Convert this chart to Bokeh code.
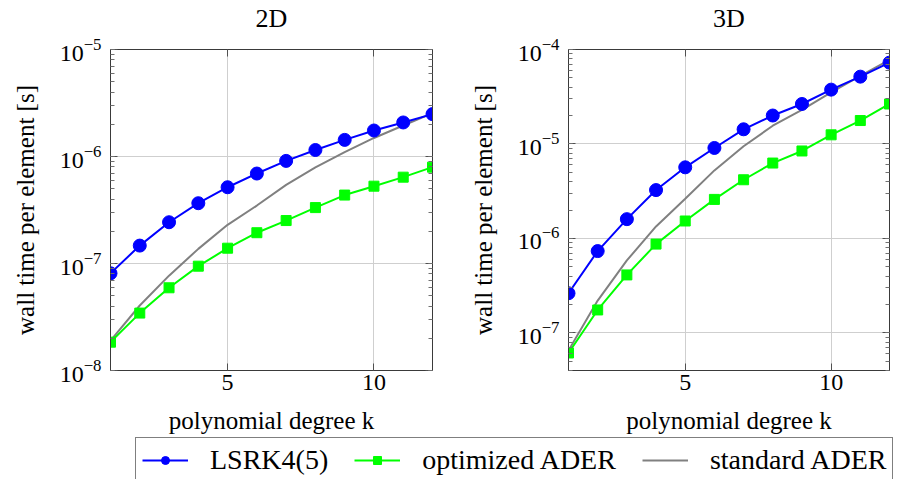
from bokeh.plotting import figure
from bokeh.models import (Range1d, LogAxis, LinearAxis, FixedTicker, LogTicker, Label,
                          Legend, LegendItem, ColumnDataSource, CustomJSTickFormatter)
from bokeh.layouts import row, column
from bokeh.embed import file_html
from bokeh.resources import INLINE

# ---------------- data ----------------
k = [1, 2, 3, 4, 5, 6, 7, 8, 9, 10, 11, 12]

lsrk_2d = [8.1e-8, 1.47e-7, 2.43e-7, 3.66e-7, 5.16e-7, 6.93e-7, 9.1e-7, 1.15e-6,
           1.43e-6, 1.75e-6, 2.08e-6, 2.49e-6]
opt_2d = [1.84e-8, 3.44e-8, 5.93e-8, 9.44e-8, 1.39e-7, 1.94e-7, 2.52e-7, 3.33e-7,
          4.36e-7, 5.28e-7, 6.41e-7, 7.95e-7]
std_2d = [1.9e-8, 4.05e-8, 7.7e-8, 1.37e-7, 2.30e-7, 3.48e-7, 5.43e-7, 7.9e-7,
          1.10e-6, 1.49e-6, 1.95e-6, 2.54e-6]

lsrk_3d = [2.63e-7, 7.35e-7, 1.60e-6, 3.25e-6, 5.66e-6, 9.07e-6, 1.43e-5, 2.0e-5,
           2.65e-5, 3.76e-5, 5.16e-5, 7.26e-5]
opt_3d = [6.13e-8, 1.75e-7, 4.11e-7, 8.71e-7, 1.53e-6, 2.59e-6, 4.18e-6, 6.28e-6,
          8.43e-6, 1.25e-5, 1.77e-5, 2.65e-5]
std_3d = [6.5e-8, 2.2e-7, 5.85e-7, 1.34e-6, 2.63e-6, 5.25e-6, 9.45e-6, 1.56e-5,
          2.29e-5, 3.52e-5, 5.25e-5, 7.76e-5]

series_names = ["LSRK4(5)", "optimized ADER", "standard ADER"]
panel_titles = ["2D", "3D"]
x_ticks = [5, 10]
x_label = "polynomial degree k"
y_label = "wall time per element [s]"

FONT = "Liberation Serif"
BLUE = "#0000ff"
GREEN = "#00ff00"
GRAY = "#808080"
FRAME = "#3a3a3a"

TITLE_H = 36
FIG_H = 401
TOP = 13
BOTTOM = 67


def style_axis(ax, hide_labels=False):
    ax.axis_line_color = FRAME
    ax.major_tick_in = 7
    ax.major_tick_out = 0
    ax.minor_tick_in = 4
    ax.minor_tick_out = 0
    ax.major_tick_line_color = "#505050"
    ax.minor_tick_line_color = "#707070"
    ax.major_label_text_font = FONT
    ax.major_label_text_font_size = "24px"
    ax.major_label_text_color = "black"
    ax.axis_label_text_font = FONT
    ax.axis_label_text_font_size = "25px"
    ax.axis_label_text_font_style = "normal"
    ax.axis_label_text_color = "black"
    if hide_labels:
        ax.formatter = CustomJSTickFormatter(code="return ''")
        ax.major_label_standoff = 0


def make_panel(lsrk, opt, std, ymin, ymax, left, width, right):
    p = figure(width=width, height=FIG_H, y_axis_type="log",
               x_range=Range1d(1, 12), y_range=Range1d(ymin, ymax),
               output_backend="svg", toolbar_location=None,
               min_border_left=left, min_border_right=right,
               min_border_top=TOP, min_border_bottom=BOTTOM,
               background_fill_color="white", border_fill_color="white")
    p.outline_line_color = FRAME
    p.outline_line_width = 1

    xt = FixedTicker(ticks=x_ticks, minor_ticks=[])
    yt = LogTicker(num_minor_ticks=10)
    p.xaxis.ticker = xt
    p.yaxis.ticker = yt
    p.xgrid.ticker = xt
    p.ygrid.ticker = yt
    p.xgrid.grid_line_color = "#cfcfcf"
    p.ygrid.grid_line_color = "#cfcfcf"
    p.xgrid.grid_line_width = 1
    p.ygrid.grid_line_width = 1

    p.xaxis.axis_label = x_label
    p.yaxis.axis_label = y_label
    for ax in p.xaxis + p.yaxis:
        style_axis(ax)
    p.xaxis.major_label_standoff = 4
    p.xaxis.axis_label_standoff = 14
    p.yaxis.major_label_standoff = 9
    p.yaxis.axis_label_standoff = 18

    top = LinearAxis(ticker=xt)
    style_axis(top, hide_labels=True)
    p.add_layout(top, "above")
    rgt = LogAxis(ticker=yt)
    style_axis(rgt, hide_labels=True)
    p.add_layout(rgt, "right")

    src = ColumnDataSource(dict(k=k, lsrk=lsrk, opt=opt, std=std))
    p.line("k", "std", source=src, line_color=GRAY, line_width=2)
    p.line("k", "opt", source=src, line_color=GREEN, line_width=2)
    p.scatter("k", "opt", source=src, marker="square", size=10,
              fill_color=GREEN, line_color=GREEN)
    p.line("k", "lsrk", source=src, line_color=BLUE, line_width=2)
    p.scatter("k", "lsrk", source=src, marker="circle", size=13,
              fill_color=BLUE, line_color=BLUE)
    return p


p1 = make_panel(lsrk_2d, opt_2d, std_2d, 1e-8, 1e-5, 110, 452, 20)
p2 = make_panel(lsrk_3d, opt_3d, std_3d, 4e-8, 1e-4, 116, 453, 16)

# title strip above the two panels (centred over each frame)
t = figure(width=905, height=TITLE_H, output_backend="svg", toolbar_location=None,
           x_axis_type=None, y_axis_type=None, min_border=0,
           x_range=Range1d(0, 1), y_range=Range1d(0, 1))
t.outline_line_color = None
t.xgrid.visible = False
t.ygrid.visible = False
centres = [110 + (452 - 110 - 20) / 2, 452 + 116 + (453 - 116 - 16) / 2]
for name, cx in zip(panel_titles, centres):
    t.add_layout(Label(x=cx, y=TITLE_H / 2, x_units="screen", y_units="screen",
                       text=name, text_align="center", text_baseline="middle",
                       text_font=FONT, text_font_size="26px", text_color="black"))

# legend strip (its renderers lie outside the strip's ranges, only the legend shows)
p3 = figure(width=905, height=42, output_backend="svg", toolbar_location=None,
            x_axis_type=None, y_axis_type=None, min_border=0,
            x_range=Range1d(-20, -19), y_range=Range1d(0, 1))
p3.outline_line_color = None
p3.xgrid.visible = False
p3.ygrid.visible = False
lsrc = ColumnDataSource(dict(k=k, lsrk=lsrk_2d, opt=opt_2d, std=std_2d))
r1 = p3.line("k", "lsrk", source=lsrc, line_color=BLUE, line_width=2)
r1m = p3.scatter("k", "lsrk", source=lsrc, marker="circle", size=13,
                 fill_color=BLUE, line_color=BLUE)
r2 = p3.line("k", "opt", source=lsrc, line_color=GREEN, line_width=2)
r2m = p3.scatter("k", "opt", source=lsrc, marker="square", size=10,
                 fill_color=GREEN, line_color=GREEN)
r3 = p3.line("k", "std", source=lsrc, line_color=GRAY, line_width=2)
legend = Legend(items=[LegendItem(label=series_names[0], renderers=[r1, r1m]),
                       LegendItem(label=series_names[1], renderers=[r2, r2m]),
                       LegendItem(label=series_names[2], renderers=[r3])],
                orientation="horizontal", location=(135, -4),
                label_text_font=FONT, label_text_font_size="28px",
                label_text_color="black",
                glyph_width=46, glyph_height=20, label_standoff=22,
                spacing=26, padding=6, margin=0,
                border_line_color="black", border_line_width=1,
                background_fill_color="white", background_fill_alpha=1)
p3.add_layout(legend, "center")

layout = column(t, row(p1, p2), p3)
open("out.html", "w").write(file_html(layout, INLINE))
